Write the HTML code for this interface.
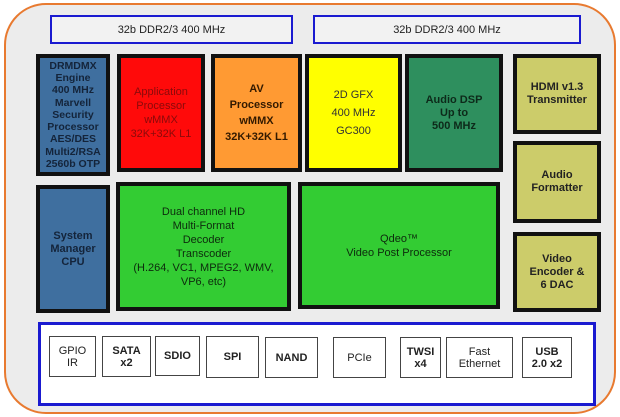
<!DOCTYPE html>
<html><head><meta charset="utf-8"><style>
body{margin:0;width:620px;height:417px;background:#fff;position:relative;overflow:hidden;font-family:"Liberation Sans",sans-serif;}
.a{position:absolute;box-sizing:border-box;display:flex;align-items:center;justify-content:center;text-align:center;}
.b{border:4px solid #111;font-weight:bold;font-size:11px;line-height:13px;}
.s{border:1px solid #444;background:#fff;font-size:11px;line-height:12px;color:#222;}
</style></head><body>
<div class="a" style="left:4px;top:3px;width:612px;height:411px;border:2px solid #e87a30;border-radius:42px;background:#ececec"></div>
<div class="a" style="left:50px;top:15px;width:243px;height:29px;border:2px solid #1a1ad0;background:#f2f2f2;font-size:11px;color:#222">32b DDR2/3 400 MHz</div>
<div class="a" style="left:313px;top:15px;width:268px;height:29px;border:2px solid #1a1ad0;background:#f2f2f2;font-size:11px;color:#222">32b DDR2/3 400 MHz</div>

<div class="a b" style="left:36px;top:54px;width:74px;height:122px;background:#3f6f9f;color:#14243a;font-size:10.5px;line-height:12.3px">DRMDMX<br>Engine<br>400 MHz<br>Marvell<br>Security<br>Processor<br>AES/DES<br>Multi2/RSA<br>2560b OTP</div>
<div class="a b" style="left:117px;top:54px;width:88px;height:118px;background:#ff0a0a;color:#8a0a0a;font-weight:normal;line-height:14px">Application<br>Processor<br>wMMX<br>32K+32K L1</div>
<div class="a b" style="left:211px;top:54px;width:91px;height:118px;background:#ff9a33;color:#331a00;line-height:16px">AV<br>Processor<br>wMMX<br>32K+32K L1</div>
<div class="a b" style="left:305px;top:54px;width:97px;height:118px;background:#ffff00;color:#333;font-weight:normal;line-height:18px">2D GFX<br>400 MHz<br>GC300</div>
<div class="a b" style="left:405px;top:54px;width:98px;height:118px;background:#2e8f5e;color:#0d2a1a">Audio DSP<br>Up to<br>500 MHz</div>
<div class="a b" style="left:513px;top:54px;width:88px;height:80px;background:#cccc6a;color:#222">HDMI v1.3<br>Transmitter</div>
<div class="a b" style="left:513px;top:141px;width:88px;height:82px;background:#cccc6a;color:#222">Audio<br>Formatter</div>
<div class="a b" style="left:513px;top:232px;width:88px;height:80px;background:#cccc6a;color:#222">Video<br>Encoder &amp;<br>6 DAC</div>
<div class="a b" style="left:36px;top:185px;width:74px;height:128px;background:#3f6f9f;color:#14243a">System<br>Manager<br>CPU</div>
<div class="a b" style="left:116px;top:182px;width:175px;height:129px;background:#33cc33;color:#0d2a0d;font-weight:normal;line-height:14px">Dual channel HD<br>Multi-Format<br>Decoder<br>Transcoder<br>(H.264, VC1, MPEG2, WMV,<br>VP6, etc)</div>
<div class="a b" style="left:298px;top:182px;width:202px;height:127px;background:#33cc33;color:#0d2a0d;font-weight:normal;line-height:14px">Qdeo™<br>Video Post Processor</div>

<div class="a" style="left:38px;top:322px;width:558px;height:84px;border:3px solid #1a1ad0;background:#fff"></div>
<div class="a s" style="left:49px;top:336px;width:47px;height:41px">GPIO<br>IR</div>
<div class="a s" style="left:102px;top:336px;width:49px;height:41px;font-weight:bold">SATA<br>x2</div>
<div class="a s" style="left:155px;top:336px;width:45px;height:40px;font-weight:bold">SDIO</div>
<div class="a s" style="left:206px;top:336px;width:53px;height:42px;font-weight:bold">SPI</div>
<div class="a s" style="left:265px;top:337px;width:53px;height:41px;font-weight:bold">NAND</div>
<div class="a s" style="left:333px;top:337px;width:53px;height:41px">PCIe</div>
<div class="a s" style="left:400px;top:337px;width:41px;height:41px;font-weight:bold">TWSI<br>x4</div>
<div class="a s" style="left:446px;top:337px;width:67px;height:41px">Fast<br>Ethernet</div>
<div class="a s" style="left:522px;top:337px;width:50px;height:41px;font-weight:bold">USB<br>2.0 x2</div>
</body></html>
